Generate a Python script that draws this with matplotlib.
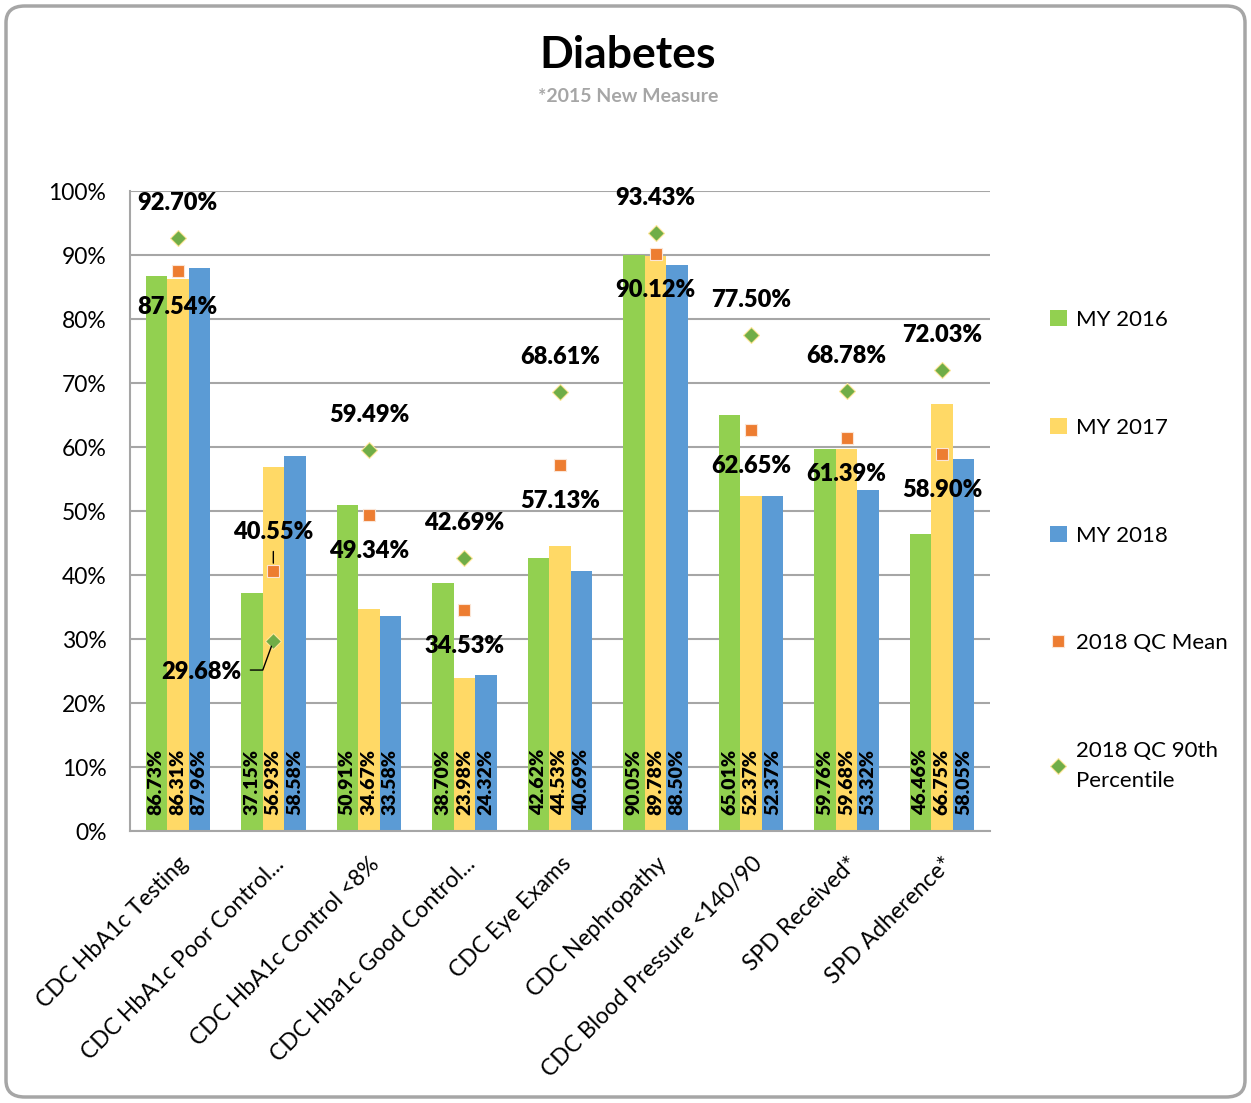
import matplotlib
matplotlib.use("Agg")
import matplotlib.pyplot as plt
import numpy as np
from matplotlib.patches import FancyBboxPatch

categories = ["CDC HbA1c Testing", "CDC HbA1c Poor Control...", "CDC HbA1c Control <8%",
              "CDC Hba1c Good Control...", "CDC Eye Exams", "CDC Nephropathy",
              "CDC Blood Pressure <140/90", "SPD Received*", "SPD Adherence*"]
my2016 = [86.73, 37.15, 50.91, 38.70, 42.62, 90.05, 65.01, 59.76, 46.46]
my2017 = [86.31, 56.93, 34.67, 23.98, 44.53, 89.78, 52.37, 59.68, 66.75]
my2018 = [87.96, 58.58, 33.58, 24.32, 40.69, 88.50, 52.37, 53.32, 58.05]
qc_mean = [87.54, 40.55, 49.34, 34.53, 57.13, 90.12, 62.65, 61.39, 58.90]
qc_90th = [92.70, 29.68, 59.49, 42.69, 68.61, 93.43, 77.50, 68.78, 72.03]
yticks = [0, 10, 20, 30, 40, 50, 60, 70, 80, 90, 100]

FONT = ["Lato", "DejaVu Sans"]
plt.rcParams['font.family'] = FONT

W, H = 1251, 1103
fig = plt.figure(figsize=(W / 100, H / 100), dpi=100)

# rounded border
border = FancyBboxPatch((6 / W, 6 / H), (W - 12) / W, (H - 12) / H,
                        boxstyle="round,pad=0,rounding_size=0.015",
                        transform=fig.transFigure, facecolor="none",
                        edgecolor="#a6a6a6", linewidth=2.5, zorder=-1)
fig.patches.append(border)

ax = fig.add_axes([130 / W, 1 - 831 / H, 860 / W, 640 / H])
ax.set_facecolor("none")

c_green, c_yellow, c_blue = "#92d050", "#ffd966", "#5b9bd5"
c_orange, c_dgreen = "#ed7d31", "#70ad47"

x = np.arange(len(categories))
bw = 0.225
series = [(my2016, c_green, "MY 2016"), (my2017, c_yellow, "MY 2017"), (my2018, c_blue, "MY 2018")]
handles = []
for i, (vals, col, lab) in enumerate(series):
    xs = x + (i - 1) * bw
    b = ax.bar(xs, vals, bw, color=col, label=lab, zorder=2)
    handles.append(b)
    for xi, v in zip(xs, vals):
        ax.annotate(f"{v:.2f}%", (xi, 0), xytext=(0, 16), textcoords="offset pixels",
                    rotation=90, ha="center", va="bottom", fontsize=14,
                    fontweight="heavy", color="black", zorder=5)

hm, = ax.plot(x, qc_mean, linestyle="none", marker="s", markersize=9,
              color=c_orange, markeredgecolor="#fbe5d6", markeredgewidth=0.8,
              label="2018 QC Mean", zorder=4)
h9, = ax.plot(x, qc_90th, linestyle="none", marker="D", markersize=8,
              color=c_dgreen, markeredgecolor="#ffe699", markeredgewidth=0.8,
              label="2018 QC 90th\nPercentile", zorder=4)

lab_kw = dict(ha="center", va="center", fontsize=17, fontweight="heavy", zorder=6)
for i in range(len(categories)):
    if i == 1:
        ax.annotate(f"{qc_mean[i]:.2f}%", (x[i], qc_mean[i]), xytext=(0, 39),
                    textcoords="offset pixels", **lab_kw)
        ax.annotate("", (x[i], qc_mean[i]), xytext=(0, 20), textcoords="offset pixels",
                    arrowprops=dict(arrowstyle="-", color="black", lw=1,
                                    shrinkA=0, shrinkB=6), zorder=6)
        ax.annotate(f"{qc_90th[i]:.2f}%", (x[i], qc_90th[i]), xytext=(-72, -31),
                    textcoords="offset pixels", **lab_kw)
        ax.annotate("", (x[i], qc_90th[i]), xytext=(-23, -29), textcoords="offset pixels",
                    arrowprops=dict(arrowstyle="-", color="black", lw=1,
                                    connectionstyle="angle,angleA=0,angleB=70,rad=0",
                                    shrinkA=0, shrinkB=4), zorder=6)
    else:
        ax.annotate(f"{qc_90th[i]:.2f}%", (x[i], qc_90th[i]), xytext=(0, 35),
                    textcoords="offset pixels", **lab_kw)
        ax.annotate(f"{qc_mean[i]:.2f}%", (x[i], qc_mean[i]), xytext=(0, -36),
                    textcoords="offset pixels", **lab_kw)

ax.set_xlim(-0.5, len(categories) - 0.5)
ax.set_ylim(0, 100)
ax.set_yticks(yticks)
ax.set_yticklabels([f"{t}%" for t in yticks], fontsize=16.5)
ax.tick_params(axis="y", length=0, pad=17)
ax.tick_params(axis="x", length=0, pad=16)
ax.set_xticks(x)
ax.set_xticklabels(categories, rotation=45, ha="right", rotation_mode="anchor", fontsize=16.5)
ax.yaxis.grid(True, color="#a6a6a6", linewidth=1.5, zorder=0)
ax.set_axisbelow(True)
for s in ["top", "right"]:
    ax.spines[s].set_visible(False)
for s in ["left", "bottom"]:
    ax.spines[s].set_color("#a6a6a6")
    ax.spines[s].set_linewidth(1.5)

leg = fig.legend(handles + [hm, h9], [h.get_label() for h in handles] + [hm.get_label(), h9.get_label()],
                 loc="upper left", bbox_to_anchor=(1030 / W, 1 - 290 / H), frameon=False,
                 fontsize=16, labelspacing=3.95, handlelength=0.75, handletextpad=0.4,
                 handleheight=0.75)
for t in leg.get_texts():
    t.set_linespacing(1.6)

fig.text(628 / W, 1 - 55 / H, "Diabetes", ha="center", va="center", fontsize=32,
         fontweight="bold")
fig.text(628 / W, 1 - 96 / H, "*2015 New Measure", ha="center", va="center", fontsize=14,
         fontweight="bold", color="#a6a6a6")

fig.savefig("out.png", dpi=100)
